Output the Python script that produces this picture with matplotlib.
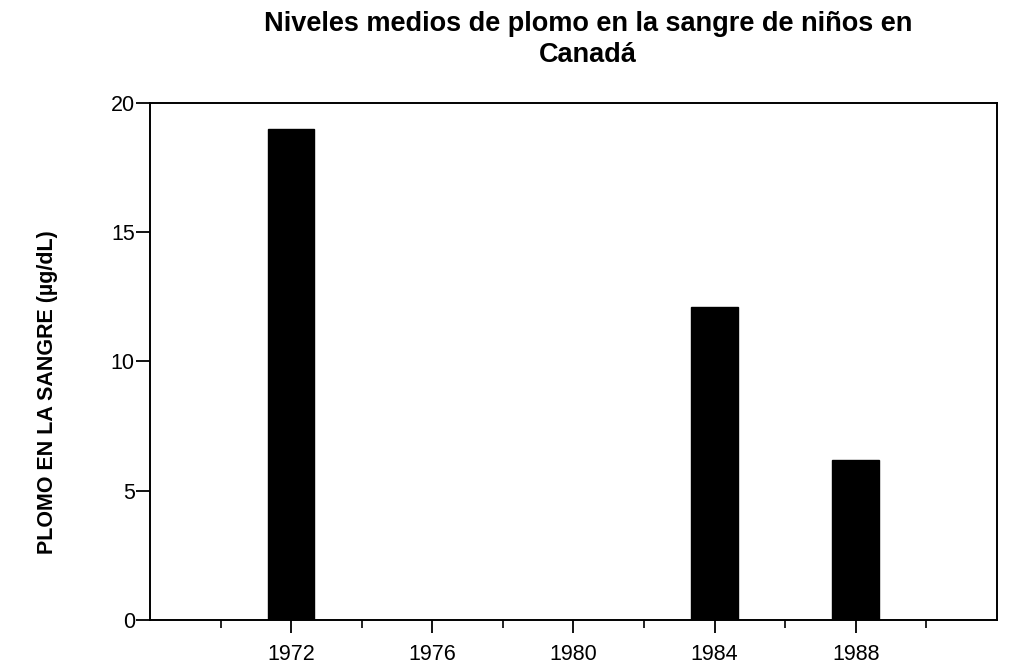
import numpy as np
import matplotlib
matplotlib.use("Agg")
import matplotlib.pyplot as plt
from matplotlib.ticker import FixedLocator

plt.rcParams['font.family'] = ['Liberation Sans', 'DejaVu Sans']

years = [1972, 1984, 1988]
lead = [19.0, 12.1, 6.2]
year_ticks = [1972, 1976, 1980, 1984, 1988]
minor_ticks = [1970, 1974, 1978, 1982, 1986, 1990]
y_ticks = [0, 5, 10, 15, 20]

title = "Niveles medios de plomo en la sangre de niños en\nCanadá"
ylabel = "PLOMO EN LA SANGRE (µg/dL)"

fig = plt.figure(figsize=(10.14, 6.68), dpi=100)
ax = fig.add_axes([0.148, 0.072, 0.835, 0.774])

ax.bar(years, lead, width=1.32, color="black", edgecolor="black")

ax.set_xlim(1968, 1992)
ax.set_ylim(0, 20)
ax.set_xticks(year_ticks)
ax.xaxis.set_minor_locator(FixedLocator(minor_ticks))
ax.set_yticks(y_ticks)

for s in ax.spines.values():
    s.set_linewidth(1.4)
ax.tick_params(axis="x", which="major", direction="out", length=9, width=1.3,
               labelsize=15.5, pad=8)
ax.tick_params(axis="x", which="minor", direction="out", length=6, width=1.2)
ax.tick_params(axis="y", which="major", direction="out", length=10, width=1.3,
               labelsize=15.5, pad=1)

fig.text(0.58, 0.984, title, ha="center", va="top", multialignment="center",
         fontsize=19.5, fontweight="bold", linespacing=1.25)
fig.text(0.047, 0.413, ylabel, rotation=90, ha="center", va="center",
         fontsize=15.5, fontweight="bold")

fig.savefig("out.png", dpi=100)
